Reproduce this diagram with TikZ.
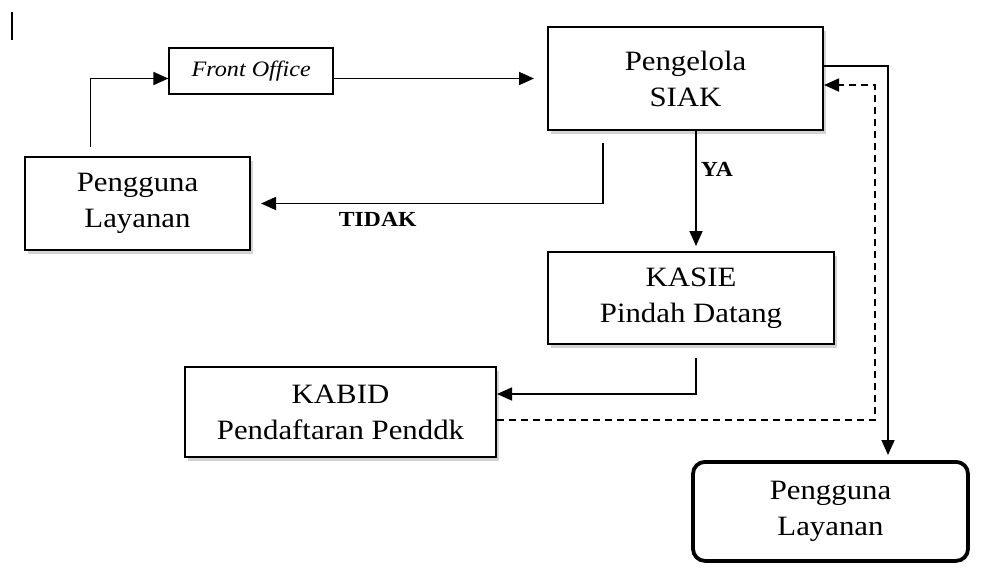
\documentclass[tikz,border=0pt]{standalone}
\usepackage{fontspec}
\setmainfont{Liberation Serif}[FakeStretch=1.1]
\usetikzlibrary{arrows.meta, positioning, shadows}

\begin{document}
\begin{tikzpicture}[
    x=1pt, y=-1pt,
    node distance=1cm and 1.5cm,
    box/.style={rectangle, draw, line width=2pt, fill=white, align=center, inner sep=0pt, font=\fontsize{28}{36}\selectfont, drop shadow={shadow xshift=3pt, shadow yshift=-4pt, opacity=0.35}},
    endbox/.style={rectangle, draw, rounded corners=12pt, line width=3.8pt, fill=white, align=center, inner sep=0pt, font=\fontsize{28}{36}\selectfont},
    smallbox/.style={rectangle, draw, line width=1.6pt, fill=white, inner sep=0pt, font=\itshape\fontsize{22}{26}\selectfont},
    arrow/.style={-{Triangle[length=15pt, width=13pt]}, line width=1.7pt},
    answer/.style={font=\bfseries\fontsize{21.5}{26}\selectfont, inner sep=4pt}
]
\useasboundingbox (0,0) rectangle (982,582);

\draw[line width=1.2pt] (12,12) -- (12,40);

\node[box, minimum width=275pt, minimum height=103pt] (siak) at (685.5,78.5) {Pengelola\\SIAK};
\node[smallbox, minimum width=164pt, minimum height=46pt, left=213pt of siak, yshift=7.5pt] (front) {Front Office};
\node[box, minimum width=225pt, minimum height=93pt, left=296pt of siak, yshift=-125pt] (user1) {Pengguna\\Layanan};
\node[box, minimum width=286pt, minimum height=92pt, below=120pt of siak, xshift=5.5pt] (kasie) {KASIE\\Pindah Datang};
\node[box, minimum width=311pt, minimum height=90pt, left=50pt of kasie, yshift=-114pt] (kabid) {KABID\\Pendaftaran Penddk};
\node[endbox, minimum width=275pt, minimum height=99pt, below=115pt of kasie, xshift=139.5pt] (user2) {Pengguna\\Layanan};

\draw[arrow] ([xshift=-47pt, yshift=9pt]user1.north) |- (front.west |- siak.west);
\draw[arrow, shorten >=13pt] (front.east |- siak.west) -- (siak.west);
\draw[arrow, shorten >=10pt] ([xshift=-82.5pt, yshift=-12pt]siak.south) |- (user1.east)
    node[answer, below, pos=0.82, inner sep=8pt] {TIDAK};
\draw[arrow, shorten >=5pt] ([xshift=10.5pt]siak.south) -- ([xshift=10.5pt]siak.south |- kasie.north)
    node[answer, right, pos=0.32] {YA};
\draw[arrow] ([xshift=5pt, yshift=-13pt]kasie.south) |- ([yshift=18pt]kabid.east);
\draw[arrow, shorten >=5pt] ([yshift=12.5pt]siak.east) -| ([xshift=57.5pt]user2.north);
\draw[arrow, dashed, dash pattern=on 7pt off 5pt] ([yshift=-8pt]kabid.east) -- ++(378,0) |- ([yshift=-6.5pt]siak.east);

\end{tikzpicture}
\end{document}
